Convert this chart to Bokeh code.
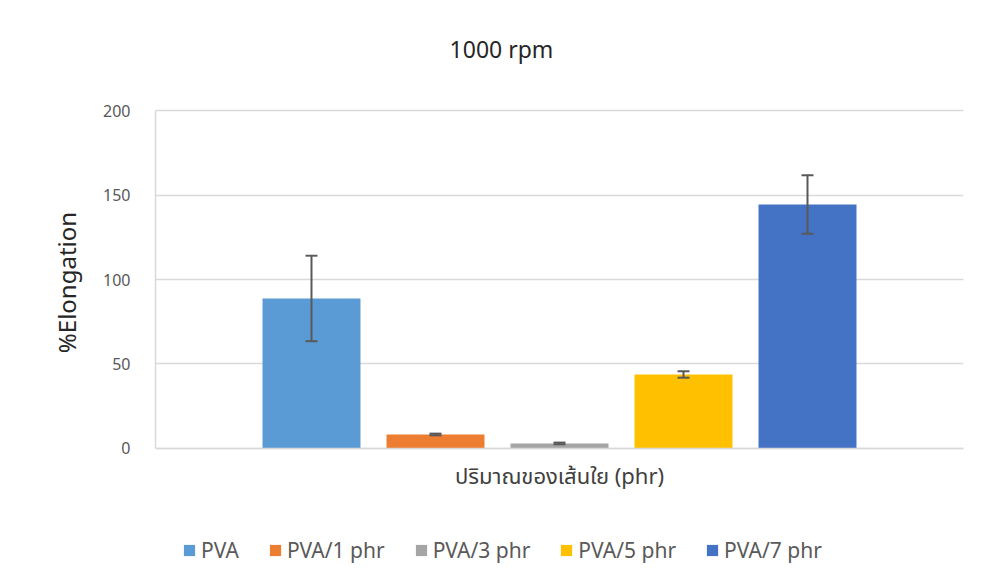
from bokeh.plotting import figure
from bokeh.models import ColumnDataSource, Range1d, Whisker, TeeHead, Legend, LegendItem, FixedTicker, Label
from bokeh.embed import file_html
from bokeh.resources import INLINE

# ---- data ----
categories = ["PVA", "PVA/1 phr", "PVA/3 phr", "PVA/5 phr", "PVA/7 phr"]
elongation = [88.8, 8.3, 3.0, 43.8, 144.4]
std_dev = [25.3, 0.5, 0.5, 1.9, 17.3]
colors = ["#5B9BD5", "#ED7D31", "#A5A5A5", "#FFC000", "#4472C4"]
y_ticks = [0, 50, 100, 150, 200]
title_text = "1000 rpm"
y_label = "%Elongation"
x_label = "ปริมาณของเส้นใย (phr)"

positions = list(range(len(categories)))
src = ColumnDataSource(dict(
    x=positions,
    top=elongation,
    upper=[v + e for v, e in zip(elongation, std_dev)],
    lower=[v - e for v, e in zip(elongation, std_dev)],
    color=colors,
    cat=categories,
))

FONT = "Noto Sans, Noto Sans Thai, sans-serif"

# frame spans almost the full height; value axis bounded to 0..200
p = figure(width=987, height=587, output_backend="svg", toolbar_location=None,
           x_range=Range1d(-1.258, 5.258), y_range=Range1d(-68.64, 265.09),
           min_border_left=155, min_border_right=24, min_border_top=0, min_border_bottom=23)
p.outline_line_color = None
p.background_fill_color = "white"
p.border_fill_color = "white"

r = p.vbar(x="x", top="top", width=0.79, bottom=0, color="color", line_color=None, source=src)

w = Whisker(base="x", upper="upper", lower="lower", source=src, level="overlay",
            line_color="#595959", line_width=2,
            upper_head=TeeHead(size=12, line_color="#595959", line_width=2),
            lower_head=TeeHead(size=12, line_color="#595959", line_width=2))
p.add_layout(w)

# title
p.add_layout(Label(x=346, y=516, x_units="screen", y_units="screen", text=title_text,
                   text_align="center", text_baseline="middle", text_font=FONT,
                   text_font_size="23px", text_color="#262626"))

# y axis
p.yaxis.bounds = (0, 200)
p.yaxis.ticker = FixedTicker(ticks=y_ticks)
p.yaxis.major_tick_line_color = None
p.yaxis.minor_tick_line_color = None
p.yaxis.axis_line_color = "#D9D9D9"
p.yaxis.axis_line_width = 1.5
p.yaxis.major_label_text_font = FONT
p.yaxis.major_label_text_font_size = "16px"
p.yaxis.major_label_text_color = "#595959"
p.yaxis.major_label_standoff = 19
p.yaxis.axis_label = y_label
p.yaxis.axis_label_text_font = FONT
p.yaxis.axis_label_text_font_size = "24px"
p.yaxis.axis_label_text_font_style = "normal"
p.yaxis.axis_label_text_color = "#262626"
p.yaxis.axis_label_standoff = 17

# x axis (fixed at zero)
p.xaxis.fixed_location = 0
p.xaxis.ticker = FixedTicker(ticks=[])
p.xaxis.major_tick_line_color = None
p.xaxis.minor_tick_line_color = None
p.xaxis.major_label_text_font_size = "0px"
p.xaxis.axis_line_color = "#D9D9D9"
p.xaxis.axis_line_width = 1.5
p.xaxis.axis_label = x_label
p.xaxis.axis_label_text_font = FONT
p.xaxis.axis_label_text_font_size = "22px"
p.xaxis.axis_label_text_font_style = "normal"
p.xaxis.axis_label_text_color = "#404040"
p.xaxis.axis_label_standoff = 11

p.xgrid.grid_line_color = None
p.ygrid.ticker = FixedTicker(ticks=y_ticks)
p.ygrid.grid_line_color = "#D9D9D9"
p.ygrid.grid_line_width = 1.5

items = [LegendItem(label=c, renderers=[r], index=i) for i, c in enumerate(categories)]
legend = Legend(items=items, orientation="horizontal", location=(27, 0),
                glyph_width=14, glyph_height=14, label_standoff=5, spacing=29,
                padding=0, margin=0, border_line_color=None, background_fill_alpha=0,
                label_text_font=FONT, label_text_font_size="21px", label_text_color="#595959")
p.add_layout(legend, "center")

open("out.html", "w").write(file_html(p, INLINE))
